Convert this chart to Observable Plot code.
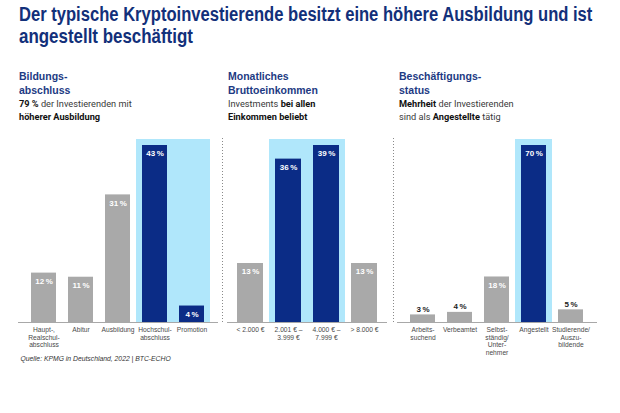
<!DOCTYPE html>
<html>
<head>
<meta charset="utf-8">
<script src="https://cdn.jsdelivr.net/npm/d3@7"></script>
<script src="https://cdn.jsdelivr.net/npm/@observablehq/plot@0.6"></script>
<style>
  html, body { margin: 0; padding: 0; background: #fff; }
  #root { position: relative; width: 620px; height: 413px; overflow: hidden; background: #fff; }
  .abs { position: absolute; }
  .head { font-family: "Liberation Sans", Arial, sans-serif; font-weight: bold; font-size: 10.5px; line-height: 13.3px; color: #1d3a83; white-space: nowrap; }
  .sub { font-family: Roboto, "Liberation Sans", sans-serif; font-size: 9.2px; line-height: 13.3px; color: #3a3a3a; white-space: nowrap; }
  .sub b { color: #111; font-weight: 700; }
  .cap { font-family: "Liberation Sans Narrow", "Liberation Sans", sans-serif; font-style: italic; font-size: 6.8px; line-height: 8px; color: #333; white-space: nowrap; }
  .sep { width: 1px; background: repeating-linear-gradient(to bottom, #8a8a8a 0 1px, transparent 1px 3px); }
</style>
</head>
<body>
<div id="root">
  <svg class="abs" style="left:0;top:0" width="620" height="55">
    <text id="t1" class="title" data-w="574" data-x="19" data-y="21" font-family="Liberation Sans Narrow, Liberation Sans, sans-serif" font-weight="bold" font-size="21" fill="#12307a">Der typische Kryptoinvestierende besitzt eine höhere Ausbildung und ist</text>
    <text id="t2" class="title" data-w="174" data-x="19" data-y="43" font-family="Liberation Sans Narrow, Liberation Sans, sans-serif" font-weight="bold" font-size="21" fill="#12307a">angestellt beschäftigt</text>
  </svg>

  <div class="abs head" style="left:19px;top:70.4px">Bildungs-<br>abschluss</div>
  <div class="abs sub" style="left:19px;top:96.9px"><b>79 %</b> der Investierenden mit<br><b>höherer Ausbildung</b></div>

  <div class="abs head" style="left:228px;top:70.4px">Monatliches<br>Bruttoeinkommen</div>
  <div class="abs sub" style="left:228px;top:96.9px">Investments <b>bei allen</b><br><b>Einkommen beliebt</b></div>

  <div class="abs head" style="left:399px;top:70.4px">Beschäftigungs-<br>status</div>
  <div class="abs sub" style="left:399px;top:96.9px"><b>Mehrheit</b> der Investierenden<br>sind als <b>Angestellte</b> tätig</div>

  <div class="abs sep" style="left:222px;top:138px;height:185px"></div>
  <div class="abs sep" style="left:393px;top:138px;height:185px"></div>

  <div id="p1" class="abs" style="left:0;top:130px"></div>
  <div id="p2" class="abs" style="left:222px;top:130px"></div>
  <div id="p3" class="abs" style="left:393px;top:130px"></div>

  <div class="abs cap" style="left:20.5px;top:354.7px">Quelle: KPMG in Deutschland, 2022 | BTC-ECHO</div>
</div>
<script>
// Panel 1: Bildungsabschluss
const eduCategories = ["Haupt-,\nRealschul-\nabschluss", "Abitur", "Ausbildung", "Hochschul-\nabschluss", "Promotion"];
const eduValues = [12, 11, 31, 43, 4];
const eduHighlighted = ["Hochschul-\nabschluss", "Promotion"];

// Panel 2: Monatliches Bruttoeinkommen
const incomeCategories = ["< 2.000 €", "2.001 € –\n3.999 €", "4.000 € –\n7.999 €", "> 8.000 €"];
const incomeValues = [13, 36, 39, 13];
const incomeHighlighted = ["2.001 € –\n3.999 €", "4.000 € –\n7.999 €"];

// Panel 3: Beschäftigungsstatus
const jobCategories = ["Arbeits-\nsuchend", "Verbeamtet", "Selbst-\nständig/\nUnter-\nnehmer", "Angestellt", "Studierende/\nAuszu-\nbildende"];
const jobValues = [3, 4, 18, 70, 5];
const jobHighlighted = ["Angestellt"];

const NAVY = "#0b2c86";
const GRAY = "#a9a9a9";
const LIGHT = "#b0e7fb";

// condensed title: scale the natural text horizontally to the reference width
document.querySelectorAll("text.title").forEach(t => {
  const len = t.getComputedTextLength();
  const sx = (+t.dataset.w) / len;
  t.setAttribute("transform", `translate(${t.dataset.x},${t.dataset.y}) scale(${sx},1)`);
});

function panel(cats, values, highlighted, opts) {
  const max = d3.max(values);
  const data = cats.map((c, i) => ({cat: c, value: values[i], hl: highlighted.includes(c), top: max}));
  const inside = d => d.value / max > 0.085;
  const fmt = d => d.value + "\u2009%";
  return Plot.plot({
    width: opts.width,
    height: 240,
    marginTop: 15,
    marginBottom: 48,
    marginLeft: opts.ml,
    marginRight: opts.mr,
    x: {type: "band", domain: cats, paddingInner: 0.316, paddingOuter: opts.po, axis: null},
    y: {domain: [0, max], axis: null},
    style: {background: "transparent", overflow: "visible", fontFamily: "Liberation Sans, Arial, sans-serif"},
    marks: [
      Plot.barY(data.filter(d => d.hl), {x: "cat", y: "top", fill: LIGHT, insetLeft: -6, insetRight: -6, insetTop: -6}),
      Plot.barY(data.filter(d => !d.hl), {x: "cat", y: "value", fill: GRAY}),
      Plot.barY(data.filter(d => d.hl), {x: "cat", y: "value", fill: NAVY}),
      Plot.ruleY([0], {stroke: "#a8a8a8", strokeWidth: 1}),
      Plot.text(data.filter(inside), {x: "cat", y: "value", text: fmt, lineAnchor: "top", dy: 5, fill: "white", fontWeight: "bold", fontSize: 8}),
      Plot.text(data.filter(d => !inside(d)), {x: "cat", y: "value", text: fmt, lineAnchor: "bottom", dy: -3, fill: "#222", fontWeight: "bold", fontSize: 8}),
      Plot.text(data, {x: "cat", y: 0, text: "cat", lineAnchor: "top", dy: 4, fontSize: 6.7, fill: "#4a4a4a", lineHeight: 1.15})
    ]
  });
}

document.getElementById("p1").append(panel(eduCategories, eduValues, eduHighlighted, {width: 222, ml: 18, mr: 4, po: 0.29}));
document.getElementById("p2").append(panel(incomeCategories, incomeValues, incomeHighlighted, {width: 171, ml: 5, mr: 6, po: 0.263}));
document.getElementById("p3").append(panel(jobCategories, jobValues, jobHighlighted, {width: 227, ml: 4, mr: 23, po: 0.29}));
</script>
</body>
</html>
